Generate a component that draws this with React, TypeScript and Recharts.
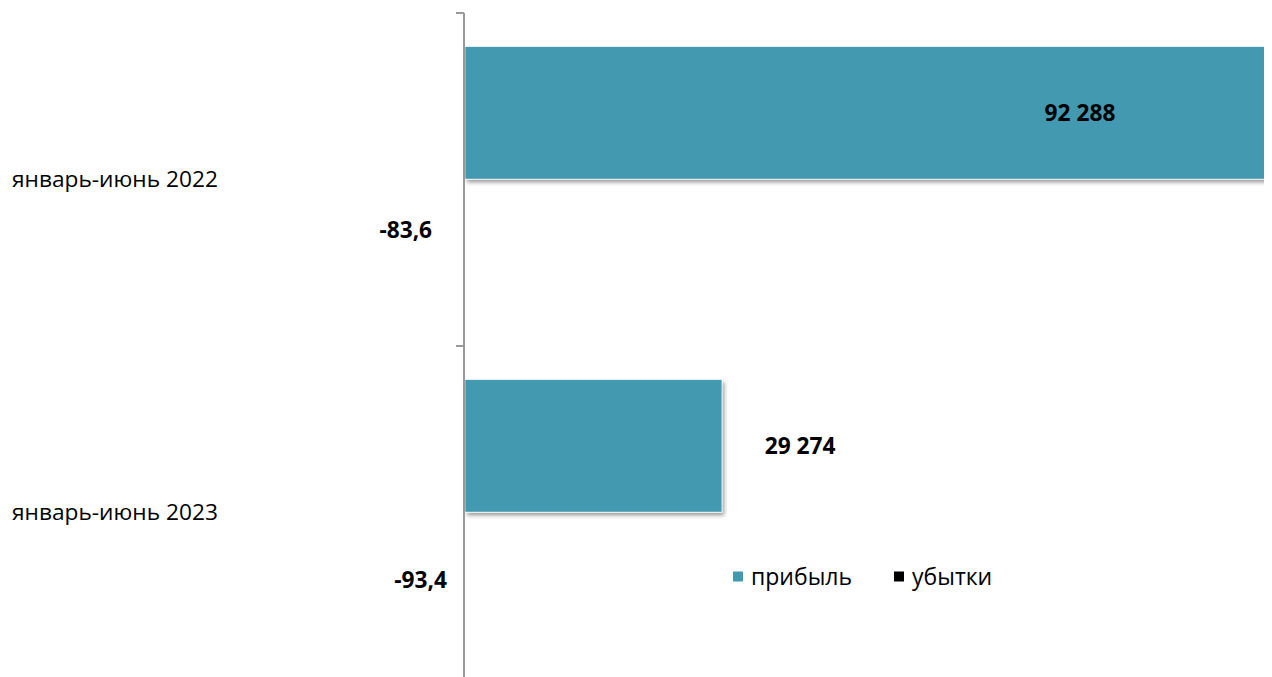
import React from 'react';
import { BarChart, Bar, XAxis, YAxis, LabelList } from 'recharts';

const periods = ['январь-июнь 2022', 'январь-июнь 2023'];
const profit = [92288, 29274];
const losses = [-83.6, -93.4];
const seriesNames = ['прибыль', 'убытки'];
const seriesColors = ['#4399B0', '#000000'];

const data = periods.map((period, i) => ({
  period,
  profit: profit[i],
  losses: losses[i],
}));

const WIDTH = 1268;
const HEIGHT = 671;
const TOP = 5;
const AXIS_W = 456;
const BAND = (HEIGHT - TOP) / periods.length;
const FONT = '"Open Sans", "DejaVu Sans", sans-serif';
const FS = 22.7;

// label nudges (the original labels were dragged by hand)
const profitShift = [-196, 78];
const lossShift = [{ dx: -32, dy: -16 }, { dx: -17, dy: 1 }];

function fmt(v: number) {
  const neg = v < 0;
  const abs = Math.abs(v);
  const [int, dec] = String(abs).split('.');
  const grouped = int.replace(/\B(?=(\d{3})+(?!\d))/g, ' ');
  return (neg ? '-' : '') + grouped + (dec ? ',' + dec : '');
}

const CategoryTick = (props: any) => {
  const { y, payload, index } = props;
  return (
    <g>
      <line x1={AXIS_W - 8} x2={AXIS_W} y1={y - BAND / 2} y2={y - BAND / 2} stroke="#999" strokeWidth={2} />
      {index === periods.length - 1 && (
        <line x1={AXIS_W - 8} x2={AXIS_W} y1={y + BAND / 2} y2={y + BAND / 2} stroke="#999" strokeWidth={2} />
      )}
      <text x={4} y={y} dy="0.35em" textAnchor="start" fontSize={FS} fontFamily={FONT} fill="#000">
        {payload.value}
      </text>
    </g>
  );
};

const ShadowBar = (props: any) => {
  const { x, y, width, height, fill } = props;
  if (!width || Math.abs(width) < 2) {
    return <rect x={Math.min(x, x + width)} y={y} width={Math.abs(width || 0)} height={height} fill={fill} />;
  }
  return (
    <g>
      <rect x={x + 2} y={y + 3} width={width} height={height} fill="#000" opacity={0.4} filter="url(#barShadow)" />
      <rect x={x} y={y} width={width} height={height} fill={fill} stroke="#fff" strokeWidth={1} />
    </g>
  );
};

const ProfitLabel = (props: any) => {
  const { x, y, width, height, index, value } = props;
  return (
    <text
      x={x + width + profitShift[index]}
      y={y + height / 2}
      dy="0.35em"
      textAnchor="middle"
      fontWeight="bold"
      fontSize={FS}
      fontFamily={FONT}
      fill="#000"
    >
      {fmt(value)}
    </text>
  );
};

const LossLabel = (props: any) => {
  const { x, y, width, height, index, value } = props;
  const left = Math.min(x, x + width);
  const s = lossShift[index];
  return (
    <text
      x={left + s.dx}
      y={y + height / 2 + s.dy}
      dy="0.35em"
      textAnchor="end"
      fontWeight="bold"
      fontSize={FS}
      fontFamily={FONT}
      fill="#000"
    >
      {fmt(value)}
    </text>
  );
};

const ChartLegend = () => (
  <div
    style={{
      position: 'absolute',
      left: 725,
      top: 568,
      transform: 'translateY(-50%)',
      display: 'flex',
      alignItems: 'center',
      fontFamily: FONT,
      fontSize: 23,
      lineHeight: 1,
      color: '#000',
      whiteSpace: 'nowrap',
    }}
  >
    {seriesNames.map((name, i) => (
      <div key={name} style={{ display: 'flex', alignItems: 'center', marginRight: 42 }}>
        <span style={{ width: 10, height: 10, background: seriesColors[i], display: 'inline-block', marginRight: 8 }} />
        <span>{name}</span>
      </div>
    ))}
  </div>
);

const xDomain = [Math.min(...losses), Math.max(...profit)];

export default function App() {
  return (
    <div style={{ width: WIDTH, height: HEIGHT, position: 'relative' }}>
      <style>{'html { overflow: hidden; }'}</style>
      <svg width={0} height={0} style={{ position: 'absolute' }}>
        <defs>
          <filter id="barShadow" x="-5%" y="-5%" width="110%" height="120%">
            <feGaussianBlur stdDeviation="2" />
          </filter>
        </defs>
      </svg>
      <BarChart
        width={WIDTH}
        height={HEIGHT}
        data={data}
        layout="vertical"
        margin={{ top: TOP, right: 0, bottom: 0, left: 0 }}
        barCategoryGap="10%"
        barGap={0}
      >
        <XAxis type="number" hide domain={xDomain} />
        <YAxis
          type="category"
          dataKey="period"
          width={AXIS_W}
          axisLine={{ stroke: '#999', strokeWidth: 2 }}
          tickLine={false}
          tick={<CategoryTick />}
          interval={0}
        />
        <Bar dataKey="profit" name={seriesNames[0]} fill={seriesColors[0]} shape={<ShadowBar />} isAnimationActive={false}>
          <LabelList dataKey="profit" content={<ProfitLabel />} />
        </Bar>
        <Bar dataKey="losses" name={seriesNames[1]} fill={seriesColors[1]} shape={<ShadowBar />} isAnimationActive={false}>
          <LabelList dataKey="losses" content={<LossLabel />} />
        </Bar>
      </BarChart>
      <ChartLegend />
    </div>
  );
}
